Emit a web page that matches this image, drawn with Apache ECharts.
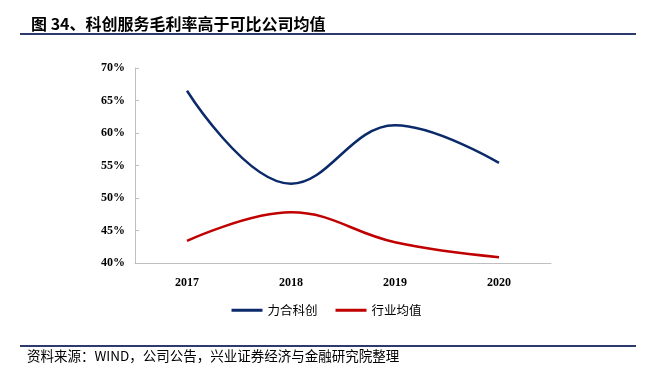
<!DOCTYPE html>
<html>
<head>
<meta charset="utf-8">
<script src="https://cdn.jsdelivr.net/npm/echarts@6/dist/echarts.min.js"></script>
<style>
html,body{margin:0;padding:0;background:#fff;}
#chart{width:653px;height:376px;}
</style>
</head>
<body>
<div id="chart"></div>
<script>
"use strict";
// 数据
var years = ['2017', '2018', '2019', '2020'];
var lihe = [66.5, 52.2, 61.2, 55.4];      // 力合科创
var industry = [43.4, 47.8, 43.2, 40.9];  // 行业均值
var seriesNames = ['力合科创', '行业均值'];

var myChart = echarts.init(document.getElementById('chart'));
var serifBold = {fontFamily: '"Liberation Serif", "Times New Roman", serif', fontWeight: 'bold', fontSize: 12, color: '#000'};

var option = {
    animation: false,
    title: {
        text: '图 34、科创服务毛利率高于可比公司均值',
        left: 26,
        top: 11,
        textStyle: {fontFamily: '"Noto Sans CJK SC"', fontWeight: 'bold', fontSize: 16, color: '#000'}
    },
    graphic: [
        {type: 'line', shape: {x1: 20, y1: 34, x2: 636, y2: 34}, style: {stroke: '#2e3a6e', lineWidth: 2}},
        {type: 'line', shape: {x1: 20, y1: 346, x2: 636, y2: 346}, style: {stroke: '#2e3a6e', lineWidth: 2}},
        {type: 'text', left: 27, top: 349,
            style: {text: '资料来源：WIND，公司公告，兴业证券经济与金融研究院整理', fill: '#000',
                font: '13.5px "Noto Sans CJK SC"'}}
    ],
    legend: {
        data: seriesNames,
        top: 299,
        left: 'center',
        itemWidth: 31,
        itemHeight: 3,
        itemGap: 18,
        icon: 'rect',
        textStyle: {fontFamily: '"Noto Sans CJK SC"', fontSize: 12.5, color: '#000'}
    },
    grid: {left: 135, right: 102, top: 68, bottom: 113},
    xAxis: {
        type: 'category',
        data: years,
        boundaryGap: true,
        axisLine: {lineStyle: {color: '#bfbfbf'}},
        axisTick: {inside: true, length: 4, lineStyle: {color: '#bfbfbf'}},
        axisLabel: Object.assign({margin: 14}, serifBold)
    },
    yAxis: {
        type: 'value',
        min: 40,
        max: 70,
        interval: 5,
        splitLine: {show: false},
        axisLine: {show: true, lineStyle: {color: '#bfbfbf'}},
        axisTick: {show: true, inside: true, length: 4, lineStyle: {color: '#bfbfbf'}},
        axisLabel: Object.assign({margin: 10, formatter: function (v) { return v + '%'; }}, serifBold)
    },
    series: [
        {
            name: seriesNames[0],
            type: 'line',
            data: lihe,
            smooth: 0.4,
            symbol: 'none',
            lineStyle: {width: 2.5, color: '#0b2a6a'},
            itemStyle: {color: '#0b2a6a'}
        },
        {
            name: seriesNames[1],
            type: 'line',
            data: industry,
            smooth: 0.4,
            symbol: 'none',
            lineStyle: {width: 2.5, color: '#c00000'},
            itemStyle: {color: '#c00000'}
        }
    ]
};
myChart.setOption(option);

window.onresize = function () {
    myChart.resize();
};
</script>
</body>
</html>
